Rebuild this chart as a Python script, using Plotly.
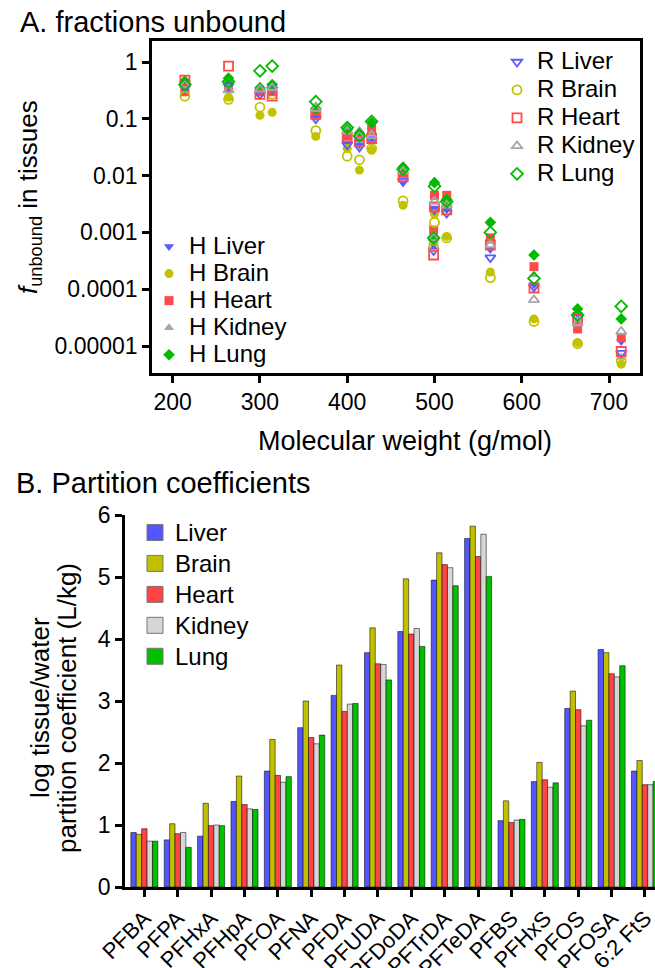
import plotly.graph_objects as go

# ---------------- data ----------------
compounds = ["PFBA", "PFPA", "PFHxA", "PFHpA", "PFOA", "PFNA", "PFDA", "PFUDA", "PFDoDA",
             "PFTrDA", "PFTeDA", "PFBS", "PFHxS", "PFOS", "PFOSA", "6:2 FtS"]
mw = [214, 264, 314, 364, 414, 464, 514, 564, 614, 664, 714, 300, 400, 500, 499, 428]

# fraction unbound, rat (R) and human (H)
fu_r_liver = [0.35, 0.38, 0.33, 0.10, 0.032, 0.0080, 0.0022, 0.00036, 0.00011, 0.000032, 0.0000075, 0.27, 0.035, 0.0025, 0.00048, 0.042]
fu_r_brain = [0.25, 0.22, 0.27, 0.062, 0.019, 0.0036, 0.0008, 0.00016, 0.000027, 0.000011, 0.0000055, 0.16, 0.022, 0.0015, 0.00055, 0.030]
fu_r_heart = [0.48, 0.85, 0.25, 0.12, 0.040, 0.0095, 0.0025, 0.0006, 0.000105, 0.000030, 0.0000080, 0.27, 0.048, 0.0028, 0.00040, 0.045]
fu_r_kidney = [0.40, 0.32, 0.35, 0.15, 0.050, 0.012, 0.0030, 0.0006, 0.000065, 0.000025, 0.000018, 0.33, 0.060, 0.0035, 0.0008, 0.050]
fu_r_lung = [0.40, 0.45, 0.85, 0.20, 0.050, 0.013, 0.0035, 0.0010, 0.000155, 0.000035, 0.000050, 0.70, 0.070, 0.0065, 0.0008, 0.090]

fu_h_liver = [0.38, 0.42, 0.38, 0.11, 0.035, 0.0075, 0.0025, 0.0005, 0.00012, 0.000036, 0.000012, 0.30, 0.037, 0.0027, 0.0006, 0.045]
fu_h_brain = [0.30, 0.24, 0.13, 0.049, 0.0125, 0.0030, 0.00085, 0.00020, 0.000030, 0.0000115, 0.0000048, 0.115, 0.030, 0.0021, 0.0007, 0.028]
fu_h_heart = [0.30, 0.35, 0.30, 0.13, 0.047, 0.011, 0.0045, 0.0008, 0.00025, 0.000020, 0.000014, 0.30, 0.050, 0.0045, 0.0011, 0.065]
fu_h_kidney = [0.42, 0.38, 0.38, 0.17, 0.063, 0.015, 0.0036, 0.0007, 0.00018, 0.000028, 0.0000063, 0.38, 0.072, 0.0080, 0.0009, 0.055]
fu_h_lung = [0.46, 0.52, 0.40, 0.15, 0.055, 0.014, 0.0038, 0.0015, 0.00040, 0.000045, 0.000030, 0.35, 0.065, 0.0075, 0.00075, 0.085]

# log tissue/water partition coefficients
pc_liver = [0.88, 0.76, 0.82, 1.38, 1.87, 2.57, 3.09, 3.78, 4.12, 4.95, 5.62, 1.07, 1.70, 2.88, 3.83, 1.87]
pc_brain = [0.85, 1.02, 1.35, 1.79, 2.38, 3.00, 3.58, 4.18, 4.97, 5.39, 5.82, 1.39, 2.01, 3.16, 3.78, 2.04]
pc_heart = [0.94, 0.86, 0.99, 1.33, 1.80, 2.41, 2.83, 3.60, 4.08, 5.20, 5.33, 1.04, 1.73, 2.86, 3.44, 1.65]
pc_kidney = [0.74, 0.88, 1.00, 1.26, 1.69, 2.31, 2.95, 3.59, 4.17, 5.15, 5.69, 1.08, 1.61, 2.60, 3.39, 1.65]
pc_lung = [0.74, 0.64, 0.99, 1.25, 1.78, 2.45, 2.96, 3.34, 3.88, 4.86, 5.01, 1.09, 1.68, 2.69, 3.57, 1.70]

tissues = ["Liver", "Brain", "Heart", "Kidney", "Lung"]
y_tickvals = [0.00001, 0.0001, 0.001, 0.01, 0.1, 1]
y_ticktext = ["0.00001", "0.0001", "0.001", "0.01", "0.1", "1"]
x_tickvals = [200, 300, 400, 500, 600, 700]
pc_tickvals = [0, 1, 2, 3, 4, 5, 6]

# ---------------- styles ----------------
sc_colors = ["#5a5aff", "#c2c200", "#ff4a4a", "#a6a6a6", "#00bb00"]
bar_colors = ["#5555ff", "#c0c000", "#ff4444", "#d6d6d6", "#00c000"]
open_syms = ["triangle-down-open", "circle-open", "square-open", "triangle-up-open", "diamond-open"]
fill_syms = ["triangle-down", "circle", "square", "triangle-up", "diamond"]
FONT = "Liberation Sans, Arial, sans-serif"
TICK_FS = 23
LEG_FS = 24

W, H = 655, 968
def px(x): return x / W
def py(y): return 1 - y / H
def big(s, fs=LEG_FS): return '<span style="font-size:%dpx">%s</span>' % (fs, s)

fig = go.Figure()

h_series = [fu_h_liver, fu_h_brain, fu_h_heart, fu_h_kidney, fu_h_lung]
r_series = [fu_r_liver, fu_r_brain, fu_r_heart, fu_r_kidney, fu_r_lung]

for i, t in enumerate(tissues):
    fig.add_trace(go.Scatter(
        x=mw, y=h_series[i], mode="markers", name=big("H " + t), legend="legend2",
        marker=dict(symbol=fill_syms[i], size=9, color=sc_colors[i], line=dict(width=0)),
        xaxis="x", yaxis="y"))
for i, t in enumerate(tissues):
    fig.add_trace(go.Scatter(
        x=mw, y=r_series[i], mode="markers", name=big("R " + t), legend="legend",
        marker=dict(symbol=open_syms[i], size=9, color=sc_colors[i], line=dict(width=1.8, color=sc_colors[i])),
        xaxis="x", yaxis="y"))

pc_series = [pc_liver, pc_brain, pc_heart, pc_kidney, pc_lung]
for i, t in enumerate(tissues):
    fig.add_trace(go.Bar(
        x=compounds, y=pc_series[i], name=t, showlegend=False,
        marker=dict(color=bar_colors[i], line=dict(width=0.7, color="rgba(0,0,0,0.75)")),
        xaxis="x2", yaxis="y2"))
# legend swatches for the bar chart
for i, t in enumerate(tissues):
    fig.add_trace(go.Scatter(
        x=[None], y=[None], mode="markers", name=big(t, 24), legend="legend3",
        marker=dict(symbol="square", size=18, color=bar_colors[i], line=dict(width=1, color="#777")),
        xaxis="x2", yaxis="y2"))

axis_common = dict(showgrid=False, zeroline=False, linecolor="black", linewidth=2.5,
                   ticks="outside", ticklen=7, tickwidth=2.5, tickcolor="black",
                   tickfont=dict(family=FONT, size=TICK_FS, color="black"))

fig.update_layout(
    width=W, height=H, margin=dict(l=0, r=0, t=0, b=0, autoexpand=False),
    paper_bgcolor="white", plot_bgcolor="white",
    font=dict(family=FONT, color="black"),
    barmode="group", bargap=0.19, bargroupgap=0,
    xaxis=dict(domain=[px(152), px(640)], range=[176.3, 735.5], tickvals=x_tickvals,
               mirror=True, anchor="y", **axis_common),
    yaxis=dict(domain=[py(373), py(41)], type="log", range=[-5.475, 0.37],
               tickvals=y_tickvals, ticktext=y_ticktext, mirror=True, anchor="x", **axis_common),
    xaxis2=dict(domain=[px(125), 1.0], range=[-0.58, 15.30], anchor="y2", tickangle=-45,
                categoryorder="array", categoryarray=compounds, **axis_common),
    yaxis2=dict(domain=[py(887), py(515)], range=[0, 6], tickvals=pc_tickvals,
                anchor="x2", **axis_common),
    legend=dict(x=px(497), y=py(43), xanchor="left", yanchor="top", bgcolor="rgba(0,0,0,0)",
                font=dict(family=FONT, size=19.2, color="black"), tracegroupgap=0),
    legend2=dict(x=px(149), y=py(228), xanchor="left", yanchor="top", bgcolor="rgba(0,0,0,0)",
                 font=dict(family=FONT, size=18.5, color="black"), tracegroupgap=0),
    legend3=dict(x=px(135), y=py(512), xanchor="left", yanchor="top", bgcolor="rgba(0,0,0,0)",
                 font=dict(family=FONT, size=21.5, color="black"), tracegroupgap=0),
    annotations=[
        dict(text="A. fractions unbound", x=px(18), y=py(22), xref="paper", yref="paper",
             xanchor="left", yanchor="middle", showarrow=False, font=dict(size=29, family=FONT)),
        dict(text="B. Partition coefficients", x=px(14), y=py(483), xref="paper", yref="paper",
             xanchor="left", yanchor="middle", showarrow=False, font=dict(size=29, family=FONT)),
        dict(text="<i>f</i><sub>unbound</sub> in tissues", x=px(30), y=py(197), xref="paper", yref="paper",
             xanchor="center", yanchor="middle", textangle=-90, showarrow=False, font=dict(size=26, family=FONT)),
        dict(text="Molecular weight (g/mol)", x=px(405), y=py(441), xref="paper", yref="paper",
             xanchor="center", yanchor="middle", showarrow=False, font=dict(size=27, family=FONT)),
        dict(text="log tissue/water", x=px(40), y=py(708), xref="paper", yref="paper",
             xanchor="center", yanchor="middle", textangle=-90, showarrow=False, font=dict(size=26, family=FONT)),
        dict(text="partition coefficient (L/kg)", x=px(67), y=py(708), xref="paper", yref="paper",
             xanchor="center", yanchor="middle", textangle=-90, showarrow=False, font=dict(size=26, family=FONT)),
    ],
)
fig.update_xaxes(tickfont=dict(size=22), selector=dict(anchor="y2"))

fig.write_html("out.html", config={"displayModeBar": False},
               post_script="document.body.style.margin='0px';")
